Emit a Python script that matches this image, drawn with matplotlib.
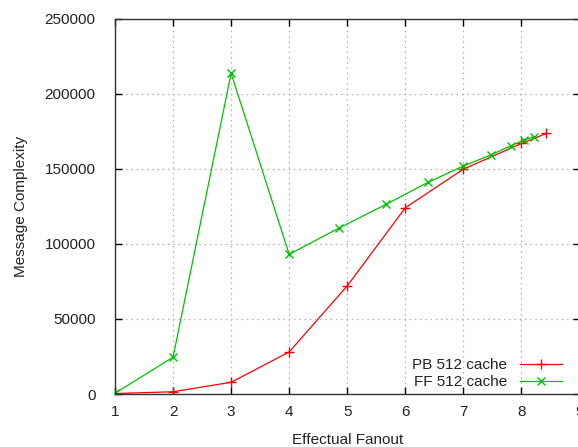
import matplotlib
matplotlib.use("Agg")
import matplotlib.pyplot as plt

# PB 512 cache
pb_fanout = [1, 2, 3, 4, 5, 6, 7, 8, 8.43]
pb_msgs = [300, 1500, 7800, 28000, 72000, 124000, 149700, 166800, 173500]

# FF 512 cache
ff_fanout = [1, 2, 3, 4, 4.86, 5.67, 6.39, 7.0, 7.47, 7.82, 8.04, 8.21]
ff_msgs = [500, 24500, 213500, 93000, 110500, 126300, 140900, 151800, 159100, 165300, 168900, 171300]

x_ticks = [1, 2, 3, 4, 5, 6, 7, 8, 9]
y_ticks = [0, 50000, 100000, 150000, 200000, 250000]

plt.rcParams['font.family'] = ['Liberation Sans', 'DejaVu Sans']
plt.rcParams['font.size'] = 11

fig = plt.figure(figsize=(5.78, 4.47), dpi=100)
W, H = 578, 447
left, right, top, bottom = 115, 579.5, 18.5, 394
ax = fig.add_axes([left / W, 1 - bottom / H, (right - left) / W, (bottom - top) / H])

ax.plot(pb_fanout, pb_msgs, color="#ff0000", lw=0.9, marker="+", ms=7, mew=1,
        label="PB 512 cache")
ax.plot(ff_fanout, ff_msgs, color="#00c000", lw=0.9, marker="x", ms=5.5, mew=1,
        label="FF 512 cache")

ax.set_xlim(1, 9)
ax.set_ylim(0, 250000)
ax.set_xticks(x_ticks)
ax.set_yticks(y_ticks)
ax.tick_params(direction="in", top=True, right=True, length=5, width=1,
               colors="#000000", labelcolor="#222222", pad=8)
ax.tick_params(axis="y", pad=14)
ax.grid(True, color="#b0b0b0", linestyle=(0, (1.2, 3)), linewidth=0.9)
for s in ax.spines.values():
    s.set_linewidth(1)
    s.set_color("#333333")

ax.set_xlabel("Effectual Fanout", color="#222222", labelpad=10)
ax.set_ylabel("Message Complexity", color="#222222", labelpad=12)

leg = ax.legend(loc="lower right", bbox_to_anchor=(0.963, 0.012), frameon=False,
                markerfirst=False, handlelength=2.75, labelspacing=0.2,
                handletextpad=0.85, borderaxespad=0, borderpad=0)
for t in leg.get_texts():
    t.set_color("#222222")

fig.savefig("out.png", dpi=100)
